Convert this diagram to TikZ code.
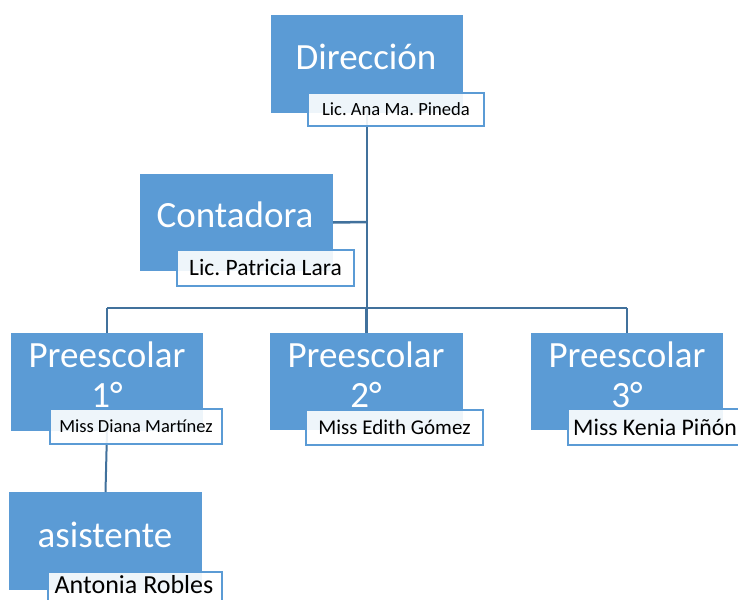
\documentclass[tikz,border=0pt]{standalone}
\usepackage{fontspec}
\setmainfont{Carlito}
\frenchspacing
\definecolor{boxblue}{HTML}{5B9BD5}
\definecolor{linkblue}{HTML}{41719C}
\begin{document}
\begin{tikzpicture}[x=1pt,y=-1pt,
  unitbox/.style={fill=boxblue, draw=none, minimum width=192pt, minimum height=98pt, inner sep=0pt, outer sep=0pt},
  title/.style={text=white, font=\fontsize{37}{40}\selectfont, inner sep=0pt},
  namebox/.style={draw=boxblue, line width=1.6pt, fill=white, fill opacity=0.9, text opacity=1, inner sep=0pt, outer sep=0pt, minimum height=35pt},
  nametext/.style={text=black, inner sep=0pt},
  link/.style={draw=linkblue, line width=2.5pt}]
\clip (0,0) rectangle (738,599);
\fill[white] (0,0) rectangle (738,599);
% coordinates
\coordinate (bus) at (367,308);
\coordinate (busL) at (107,308);
\coordinate (busR) at (627,308);
\coordinate (cj) at (367,222);
% boxes
\node[unitbox] (dir) at (367,64) {};
\node[unitbox, minimum width=193pt, minimum height=97pt] (cont) at (236.5,222.5) {};
\node[unitbox] (p1) at (107,382) {};
\node[unitbox, minimum width=193pt, minimum height=97pt] (p2) at (366.5,381.5) {};
\node[unitbox, minimum height=97pt] (p3) at (627,381.5) {};
\node[unitbox, minimum width=193pt] (asis) at (105.5,541) {};
% connectors
\draw[link] (dir.south) -- (bus);
\draw[link] (cont.east) -- (cj);
\draw[link] (busL) -- (busR);
\draw[link] (busL) -- (p1.north);
\draw[link] (p2.north |- bus) -- (p2.north);
\draw[link] (busR) -- (p3.north);
\draw[link, line width=2pt] (p1.south) -- (asis.north);
% titles
\node[title] (tdir) at (366,57) {Dirección};
\node[title] (tcont) at (235,215) {Contadora};
\node[title, align=center, font=\fontsize{37}{40}\selectfont] (tp1) at (107,375) {Preescolar\\1°};
\node[title, align=center, font=\fontsize{37}{40}\selectfont] (tp2) at (366,375) {Preescolar\\2°};
\node[title, align=center, font=\fontsize{37}{40}\selectfont] (tp3) at (627,375) {Preescolar\\3°};
\node[title] (tasis) at (105,535) {asistente};
% name boxes
\node[namebox, minimum width=176pt, minimum height=33pt] (ndir) at (396,109.5) {};
\node[nametext, font=\fontsize{18.6}{20}\selectfont] at (ndir.center) {Lic. Ana Ma. Pineda};
\node[namebox, minimum width=177pt, minimum height=36pt] (ncont) at (265.5,268) {};
\node[nametext, font=\fontsize{23.5}{25}\selectfont] at (ncont.center) {Lic. Patricia Lara};
\node[namebox, minimum width=172pt] (np1) at (136,426.5) {};
\node[nametext, font=\fontsize{18.5}{20}\selectfont] at (np1.center) {Miss Diana Martínez};
\node[namebox, minimum width=177pt] (np2) at (394.5,427.5) {};
\node[nametext, font=\fontsize{21}{23}\selectfont] at (np2.center) {Miss Edith Gómez};
\node[namebox, minimum width=177pt, minimum height=36pt] (np3) at (656.5,427) {};
\node[nametext, font=\fontsize{23.8}{25}\selectfont, anchor=west] at ([xshift=5pt]np3.west) {Miss Kenia Piñón};
\node[namebox, minimum width=174pt, minimum height=36pt] (nasis) at (135,590) {};
\node[nametext, font=\fontsize{26}{28}\selectfont, anchor=base] at (134,593) {Antonia Robles};
\end{tikzpicture}
\end{document}
